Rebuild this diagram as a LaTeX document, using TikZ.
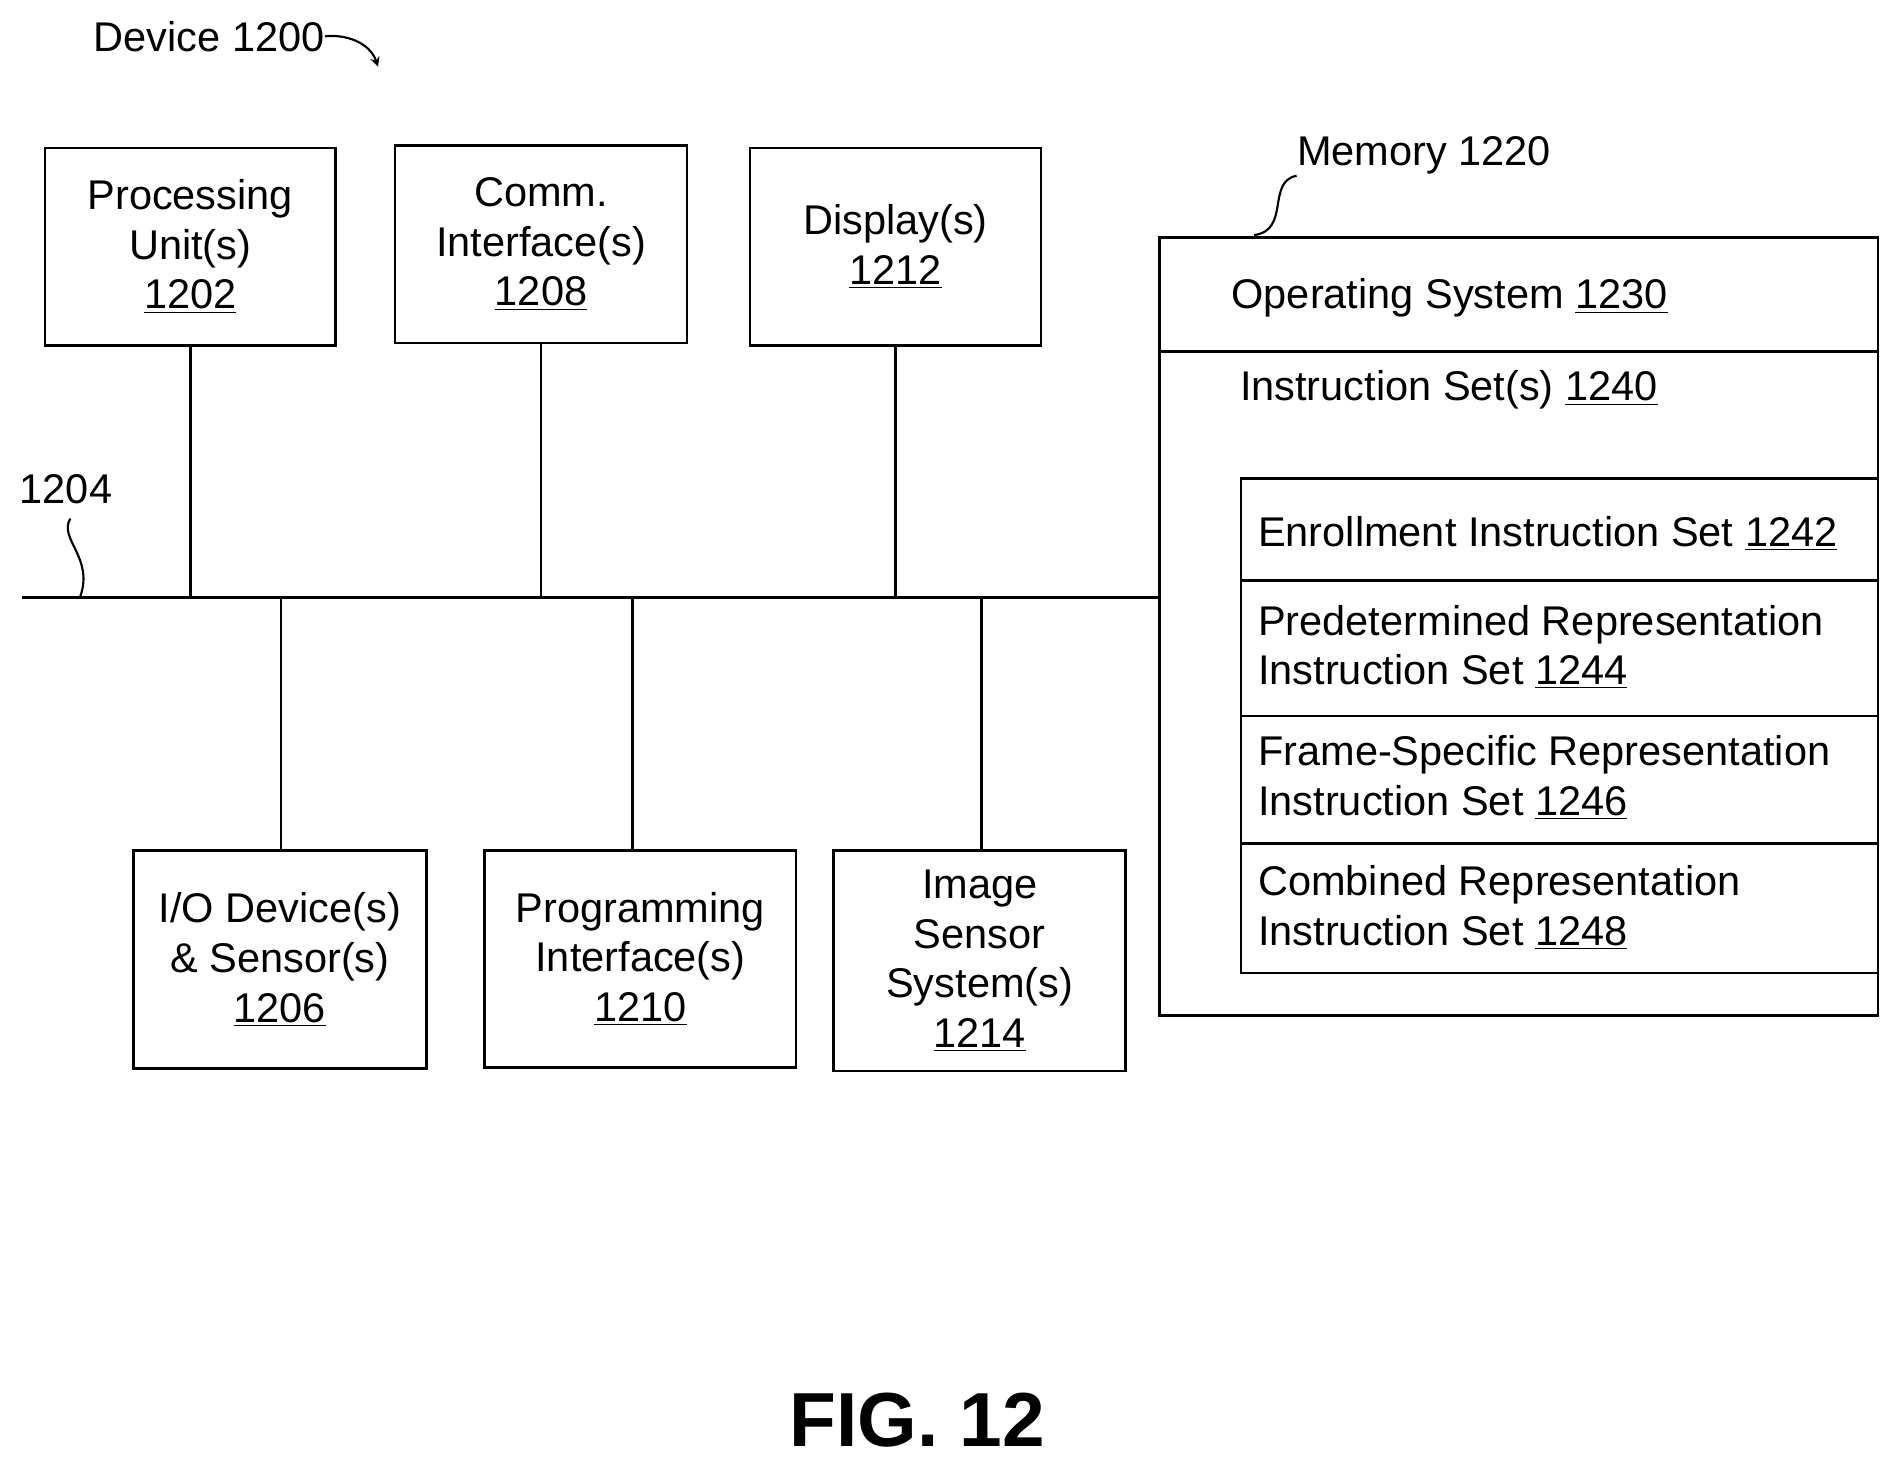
\documentclass[tikz,border=0pt]{standalone}
\usepackage{fontspec}
\setmainfont{Liberation Sans}
\begin{document}
\begin{tikzpicture}[x=0.02cm,y=-0.02cm,
  box/.style={draw,line width=1.2pt,align=center,inner sep=0pt},
  txt/.style={font=\fontsize{19.5}{23.3}\selectfont,align=center,inner sep=0pt},
  ln/.style={line width=1.2pt}]
\useasboundingbox (0,0) rectangle (1568,1211.5);
\fontsize{19.5}{23.3}\selectfont
% top boxes
\node[box,minimum width=4.8cm,minimum height=3.26cm] (pu) at (157,203.5) {};
\node[txt] at (pu.center) {Processing\\Unit(s)\\\underline{1202}};
\node[box,minimum width=4.82cm,minimum height=3.26cm] (ci) at (446.5,201.5) {};
\node[txt] at (ci.center) {Comm.\\Interface(s)\\\underline{1208}};
\node[box,minimum width=4.8cm,minimum height=3.26cm] (di) at (739,203.5) {};
\node[txt] at (di.center) {Display(s)\\\underline{1212}};
% bottom boxes
\node[box,minimum width=4.84cm,minimum height=3.6cm] (io) at (231,792) {};
\node[txt] at (io.center) {I/O Device(s)\\\& Sensor(s)\\\underline{1206}};
\node[box,minimum width=5.14cm,minimum height=3.58cm] (pi) at (528.5,791.5) {};
\node[txt] at (pi.center) {Programming\\Interface(s)\\\underline{1210}};
\node[box,minimum width=4.82cm,minimum height=3.64cm] (is) at (808.5,793) {};
\node[txt] at (is.center) {Image\\Sensor\\System(s)\\\underline{1214}};
% memory
\node[box,minimum width=11.86cm,minimum height=12.84cm] (mem) at (1253.5,517) {};
\draw[ln] (957,290) -- (1550,290);
\node[txt,anchor=west] (os) at (1016,246) {Operating System \underline{1230}};
\node[txt,anchor=west] (ins) at (1023,322) {Instruction Set(s) \underline{1240}};
\node[box,minimum width=10.52cm,minimum height=8.16cm] (inner) at (1287,599) {};
\draw[ln] (1024,479) -- (1550,479);
\draw[ln] (1024,591) -- (1550,591);
\draw[ln] (1024,696) -- (1550,696);
\node[txt,anchor=west] (e) at (1038,440) {Enrollment Instruction Set \underline{1242}};
\node[txt,anchor=west,align=left] (p) at (1038,534) {Predetermined Representation\\Instruction Set \underline{1244}};
\node[txt,anchor=west,align=left] (f) at (1038,642) {Frame-Specific Representation\\Instruction Set \underline{1246}};
\node[txt,anchor=west,align=left] (c) at (1038,749) {Combined Representation\\Instruction Set \underline{1248}};
% bus
\coordinate (b0) at (18,493);
\coordinate (b1) at (957,493);
\draw[ln] (b0) -- (b1);
\draw[ln] (pu.south) -- (pu.south |- b0);
\draw[ln] (ci.south) -- (ci.south |- b0);
\draw[ln] (di.south) -- (di.south |- b0);
\draw[ln] (232,493) -- (232,702);
\draw[ln] (522,493) -- (522,702);
\draw[ln] (810,493) -- (810,702);
% labels
\node[txt,anchor=west] (dev) at (77,30) {Device 1200};
\coordinate (da) at (312,55);
\draw[line width=1pt,-stealth] (dev.east) .. controls (285,28) and (305,35) .. (da);
\node[txt,anchor=west] (l1204) at (16,404) {1204};
\coordinate (bb) at (66,493);
\draw[line width=1pt] (58,428) .. controls (48,445) and (78,460) .. (bb);
\node[txt,anchor=west] (lmem) at (1070,128) {Memory 1220};
\coordinate (mm) at (1035,194);
\draw[line width=1pt] (1070,145) .. controls (1045,150) and (1065,190) .. (mm);
\node[font=\bfseries\fontsize{36}{40}\selectfont,inner sep=0pt] (fig) at (757,1172) {FIG. 12};
\end{tikzpicture}
\end{document}
